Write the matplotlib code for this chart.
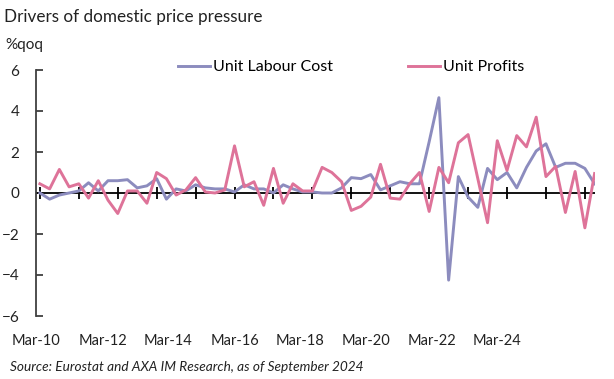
import numpy as np
import matplotlib.pyplot as plt

# quarterly data, Mar-10 .. Jun-24 (%qoq)
quarters = np.arange(58)
unit_labour_cost = [0.0, -0.3, -0.1, 0.0, 0.1, 0.5, 0.1, 0.6, 0.6, 0.65,
                    0.25, 0.35, 0.7, -0.3, 0.2, 0.1, 0.4, 0.25, 0.2, 0.2,
                    0.05, 0.4, 0.2, 0.2, 0.0, 0.4, 0.2, 0.05, 0.05, 0.0,
                    0.0, 0.25, 0.75, 0.7, 0.9, 0.15, 0.35, 0.55, 0.45, 0.45,
                    2.5, 4.65, -4.25, 0.8, -0.2, -0.7, 1.2, 0.65, 1.0, 0.25,
                    1.25, 2.05, 2.4, 1.25, 1.45, 1.45, 1.2, 0.45]
unit_profits = [0.45, 0.2, 1.15, 0.3, 0.45, -0.25, 0.6, -0.35, -1.0, 0.1,
                0.1, -0.5, 1.0, 0.7, -0.1, 0.15, 0.75, 0.05, 0.0, 0.15,
                2.3, 0.3, 0.55, -0.6, 1.2, -0.5, 0.45, 0.1, 0.1, 1.25,
                1.0, 0.55, -0.85, -0.65, -0.2, 1.4, -0.25, -0.3, 0.45, 1.0,
                -0.9, 1.25, 0.5, 2.45, 2.85, 0.7, -1.45, 2.55, 1.1, 2.8,
                2.25, 3.7, 0.8, 1.3, -0.95, 1.05, -1.7, 0.95]
tick_labels = ['Mar-10', 'Mar-12', 'Mar-14', 'Mar-16', 'Mar-18', 'Mar-20', 'Mar-22', 'Mar-24']
label_pos = [-0.4, 6.5, 13.2, 20.0, 26.7, 33.5, 40.3, 47.0]

plt.rcParams['font.family'] = ['Lato', 'DejaVu Sans']

fig = plt.figure(figsize=(6.14, 3.79), dpi=100)
ax = fig.add_axes([36/614, 1 - 316/379, (594.6 - 36)/614, (316 - 70)/379])

ax.plot(quarters, unit_labour_cost, color='#8c8cbe', lw=2.1, label='Unit Labour Cost', zorder=3)
ax.plot(quarters, unit_profits, color='#de7399', lw=2.1, label='Unit Profits', zorder=3)
ax.axhline(0, color='black', lw=1.3, zorder=2)

ax.set_xlim(0, 57)
ax.set_ylim(-6, 6)
ax.set_yticks([-6, -4, -2, 0, 2, 4, 6])
ax.tick_params(axis='y', direction='in', length=5, width=1.3, color='#404040',
               labelsize=11, pad=12, labelcolor='#222222')

# labels at the bottom, tick marks on the zero line
ax.set_xticks(label_pos)
ax.set_xticklabels(tick_labels)
ax.tick_params(axis='x', length=0, labelsize=10.5, pad=13, labelcolor='#222222')
sec = ax.secondary_xaxis(0.5)
sec.set_xticks(np.arange(0, 58, 4))
sec.tick_params(axis='x', direction='inout', length=8, width=1.3, labelbottom=False, labeltop=False)
sec.spines['bottom'].set_visible(False)
sec.spines['top'].set_visible(False)

for s in ['top', 'right', 'bottom']:
    ax.spines[s].set_visible(False)
ax.spines['left'].set_color('#404040')
ax.spines['left'].set_linewidth(1.3)

ax.legend(loc='center', bbox_to_anchor=(0.564, 1.012), ncol=2, frameon=False,
          fontsize=11.5, handlelength=2.0, handletextpad=0.2, columnspacing=4.7)

fig.text(4/614, 1 - 17/379, 'Drivers of domestic price pressure', fontsize=12.3,
         va='center', ha='left', color='#222222')
fig.text(5/614, 1 - 45/379, '%qoq', fontsize=11, va='center', ha='left', color='#222222')
fig.text(10/614, 1 - 367/379, 'Source: Eurostat and AXA IM Research, as of September 2024',
         fontsize=9.8, style='italic', va='center', ha='left', color='#222222')

fig.savefig('out.png', dpi=100)
